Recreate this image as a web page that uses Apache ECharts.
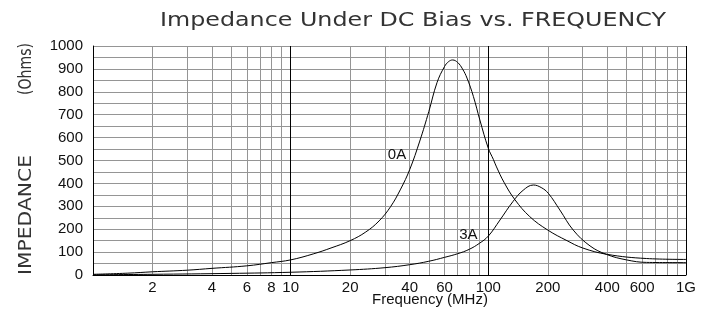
<!DOCTYPE html>
<html>
<head>
<meta charset="utf-8">
<script src="https://cdn.jsdelivr.net/npm/echarts@6/dist/echarts.min.js"></script>
<style>html,body{margin:0;padding:0;background:#fff;}#c{width:712px;height:321px;}</style>
</head>
<body>
<div id="c"></div>
<script>
// ---- data ----
const freq0A = [1, 1.5, 2, 3, 4, 6, 8, 10, 13, 16, 20, 24, 28, 32, 36, 40, 45, 50, 55, 60, 63, 66, 70, 74, 78, 84, 90.6, 100, 106, 110, 120, 136, 162, 200, 250, 300, 400, 630, 1000];
const imp0A  = [3, 8, 14, 21, 29, 40, 54, 66, 92, 118, 150, 188, 236, 298, 375, 460, 585, 714, 840, 910, 932, 939, 928, 900, 860, 780, 677, 553, 505, 472, 405, 330, 255, 196, 150, 118, 90, 72, 68];
const freq3A = [1, 2, 5, 10, 20, 30, 40, 50, 60, 70, 80, 90, 100, 114.5, 133, 150, 169, 185, 201, 230, 269, 327, 396, 500, 631, 1000];
const imp3A  = [1, 3, 7, 12, 22, 32, 45, 60, 77, 93, 112, 138, 170, 240, 320, 370, 393, 382, 357, 284, 196, 127, 90, 66, 55, 54];
const gridFreqs = [1,2,3,4,5,6,7,8,9,10,20,30,40,50,60,70,80,90,100,200,300,400,500,600,700,800,900,1000];
const xTickLabels = [2,4,6,8,10,20,40,60,100,200,400,600,1000];
const seriesNames = ['0A', '3A'];
const titleText = 'Impedance Under DC Bias vs. FREQUENCY';
const yNameParts = ['(Ohms)', 'IMPEDANCE'];
const xName = 'Frequency (MHz)';

const chart = echarts.init(document.getElementById('c'), null, {renderer: 'canvas'});
const pair = (xs, ys) => xs.map((x, i) => [x, ys[i]]);

const G = {left: 93, top: 46, width: 593, height: 229};
const gray = '#959595';

const option = {
  animation: false,
  backgroundColor: '#fff',
  grid: {left: G.left, top: G.top, width: G.width, height: G.height, show: false},
  xAxis: {
    type: 'log', logBase: 10, min: 1, max: 1000,
    axisLine: {show: true, lineStyle: {color: '#000', width: 1}},
    axisTick: {show: false, customValues: gridFreqs},
    axisLabel: {
      customValues: xTickLabels, margin: 5,
      fontFamily: 'Liberation Sans', fontSize: 15, color: '#111',
      formatter: v => { const r = Math.round(v); return r === 1000 ? '1G' : String(r); }
    },
    splitLine: {show: true, customValues: gridFreqs,
      lineStyle: {color: ['#000', gray, gray, gray, gray, gray, gray, gray, gray], width: 1}},
    minorSplitLine: {show: false}
  },
  yAxis: {
    type: 'value', min: 0, max: 1000, interval: 100,
    axisLine: {show: true, lineStyle: {color: '#000'}},
    axisTick: {show: false},
    minorTick: {show: false, splitNumber: 2},
    axisLabel: {margin: 10, fontFamily: 'Liberation Sans', fontSize: 15, color: '#111',
      formatter: v => String(Math.round(v))},
    splitLine: {show: true, lineStyle: {color: gray, width: 1}},
    minorSplitLine: {show: true, lineStyle: {color: gray, width: 1}}
  },
  series: [
    {name: seriesNames[0], type: 'line', data: pair(freq0A, imp0A), showSymbol: false,
     smooth: 0.4, lineStyle: {color: '#000', width: 1}, z: 5},
    {name: seriesNames[1], type: 'line', data: pair(freq3A, imp3A), showSymbol: false,
     smooth: 0.4, lineStyle: {color: '#000', width: 1}, z: 5}
  ]
};
chart.setOption(option);

// text layout helpers
const cv = document.createElement('canvas').getContext('2d');
function scaleFor(text, font, target) { cv.font = font; return target / cv.measureText(text).width; }

const titleFont = '19px "DejaVu Sans"';
const yFont = '17px "DejaVu Sans"';
const lblFont = '15px "Liberation Sans"';
const p0 = chart.convertToPixel({gridIndex: 0}, [34.5, 524]);
const p3 = chart.convertToPixel({gridIndex: 0}, [79.3, 175]);

chart.setOption({
  graphic: [
    {type: 'text', x: 413, y: 21, scaleX: scaleFor(titleText, titleFont, 506), scaleY: 1,
     style: {text: titleText, font: titleFont, fill: '#333', textAlign: 'center', textVerticalAlign: 'middle'}},
    {type: 'text', x: 27, y: 69, rotation: Math.PI / 2, scaleX: scaleFor(yNameParts[0], yFont, 52),
     style: {text: yNameParts[0], font: yFont, fill: '#333', textAlign: 'center', textVerticalAlign: 'middle'}},
    {type: 'text', x: 27, y: 215, rotation: Math.PI / 2, scaleX: scaleFor(yNameParts[1], yFont, 120),
     style: {text: yNameParts[1], font: yFont, fill: '#333', textAlign: 'center', textVerticalAlign: 'middle'}},
    {type: 'text', x: 430, y: 300,
     style: {text: xName, font: lblFont, fill: '#111', textAlign: 'center', textVerticalAlign: 'middle'}},
    {type: 'text', x: p0[0], y: p0[1],
     style: {text: seriesNames[0], font: lblFont, fill: '#111', textAlign: 'center', textVerticalAlign: 'middle'}},
    {type: 'text', x: p3[0], y: p3[1],
     style: {text: seriesNames[1], font: lblFont, fill: '#111', textAlign: 'center', textVerticalAlign: 'middle'}}
  ]
});
</script>
</body>
</html>
